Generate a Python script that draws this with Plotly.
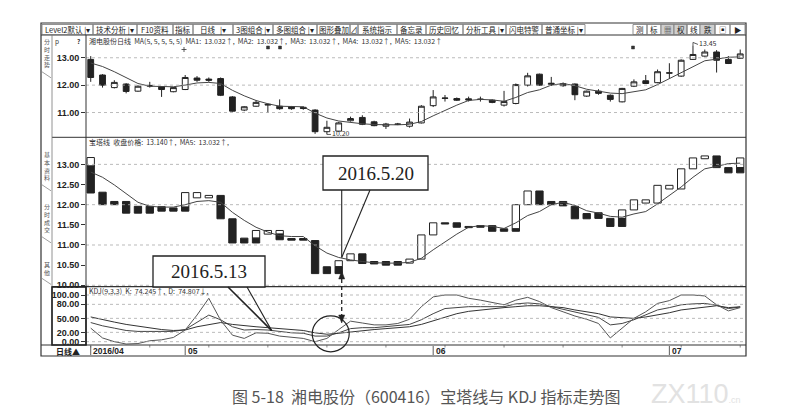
import plotly.graph_objects as go

W, H = 787, 415

# ---------------- data ----------------
dates = ["2016-04-20", "2016-04-21", "2016-04-22", "2016-04-25", "2016-04-26", "2016-04-27", "2016-04-28", "2016-04-29",
         "2016-05-03", "2016-05-04", "2016-05-05", "2016-05-06", "2016-05-09", "2016-05-10", "2016-05-11", "2016-05-12",
         "2016-05-13", "2016-05-16", "2016-05-17", "2016-05-18", "2016-05-19", "2016-05-20", "2016-05-23", "2016-05-24",
         "2016-05-25", "2016-05-26", "2016-05-27", "2016-05-30", "2016-05-31",
         "2016-06-01", "2016-06-02", "2016-06-03", "2016-06-06", "2016-06-07", "2016-06-08", "2016-06-13", "2016-06-14",
         "2016-06-15", "2016-06-16", "2016-06-17", "2016-06-20", "2016-06-21", "2016-06-22", "2016-06-23", "2016-06-24",
         "2016-06-27", "2016-06-28", "2016-06-29", "2016-06-30",
         "2016-07-01", "2016-07-04", "2016-07-05", "2016-07-06", "2016-07-07", "2016-07-08", "2016-07-11"]

open_ = [12.94, 12.37, 11.91, 12.04, 11.78, 11.99, 11.94, 11.76, 11.84, 12.26, 12.22, 12.24, 11.57, 11.09, 11.23, 11.30,
         11.23, 11.21, 11.19, 11.09, 10.30, 10.32, 10.70, 10.82, 10.66, 10.50, 10.58, 10.50, 10.62, 11.25, 11.53, 11.51,
         11.50, 11.49, 11.45, 11.27, 11.33, 12.00, 12.40, 12.02, 11.98, 12.04, 11.60, 11.78, 11.63, 11.39, 11.96, 12.16,
         12.09, 12.45, 12.33, 12.94, 13.06, 13.21, 12.94, 12.98]
high = [13.06, 12.40, 12.18, 12.07, 11.99, 12.12, 11.96, 11.93, 12.37, 12.33, 12.28, 12.28, 11.60, 11.23, 11.45, 11.33,
        11.48, 11.24, 11.22, 11.12, 10.70, 10.66, 10.85, 10.90, 10.70, 10.62, 10.62, 10.78, 11.27, 11.82, 11.64, 11.55,
        11.58, 11.58, 11.48, 11.79, 12.06, 12.45, 12.42, 12.30, 12.10, 12.06, 11.80, 11.85, 11.66, 11.90, 12.21, 12.37,
        12.57, 12.80, 12.94, 13.45, 13.30, 13.28, 13.06, 13.30]
low = [12.12, 11.91, 11.88, 11.70, 11.76, 11.91, 11.57, 11.74, 11.82, 12.12, 12.12, 11.60, 11.03, 11.05, 11.21, 10.99,
       11.10, 11.10, 11.10, 10.22, 10.20, 10.30, 10.67, 10.54, 10.50, 10.40, 10.54, 10.45, 10.60, 11.20, 11.40, 11.42,
       11.40, 11.40, 11.34, 11.22, 11.30, 11.95, 11.98, 11.97, 11.94, 11.45, 11.57, 11.65, 11.40, 11.37, 11.93, 12.04,
       12.07, 12.24, 12.30, 12.92, 13.04, 12.46, 12.77, 12.96]
close = [12.28, 12.00, 12.10, 11.77, 11.96, 11.97, 11.84, 11.91, 12.28, 12.18, 12.18, 11.63, 11.05, 11.21, 11.37, 11.28,
         11.14, 11.14, 11.15, 10.30, 10.46, 10.62, 10.78, 10.57, 10.52, 10.58, 10.57, 10.65, 11.23, 11.57, 11.52, 11.45,
         11.46, 11.48, 11.37, 11.40, 12.02, 12.34, 12.00, 12.07, 12.05, 11.65, 11.78, 11.70, 11.48, 11.88, 12.12, 12.06,
         12.49, 12.44, 12.91, 13.12, 13.21, 12.91, 12.79, 13.14]

ma5 = [12.81, 12.68, 12.49, 12.27, 12.06, 11.96, 11.94, 11.94, 12.00, 12.08, 12.10, 12.06, 11.81, 11.61, 11.44, 11.32,
       11.23, 11.21, 11.21, 10.98, 10.80, 10.69, 10.63, 10.59, 10.56, 10.55, 10.55, 10.57, 10.67, 10.88, 11.08, 11.27,
       11.44, 11.48, 11.46, 11.41, 11.55, 11.73, 11.83, 12.00, 12.06, 11.98, 11.85, 11.79, 11.71, 11.69, 11.77, 11.83,
       12.02, 12.23, 12.44, 12.68, 12.89, 12.95, 13.02, 13.03]

N = None
tower_white_lo = [12.96, N, N, N, N, N, N, N, 11.94, 12.17, 12.17, N, N, N, 11.17, 11.27, 11.27, N, N, N, N, 10.46, 10.61,
                  N, N, N, N, 10.55, 10.65, 11.25, N, N, N, N, N, N, 11.40, 12.00, N, N, N, N, N, N, N, 11.66, 11.87,
                  12.04, 12.04, 12.39, 12.39, 12.89, 13.14, N, N, 12.92]
tower_white_hi = [13.17, N, N, N, N, N, N, N, 12.30, 12.30, 12.23, N, N, N, 11.36, 11.36, 11.36, N, N, N, N, 10.61, 10.78,
                  N, N, N, N, 10.65, 11.25, 11.55, N, N, N, N, N, N, 12.00, 12.34, N, N, N, N, N, N, N, 11.87, 12.12,
                  12.12, 12.48, 12.48, 12.89, 13.16, 13.21, N, N, 13.16]
tower_black_lo = [12.29, 12.00, 12.00, 11.79, 11.79, 11.79, 11.84, 11.84, 11.84, N, N, 11.65, 11.05, 11.05, 11.05, N,
                  11.13, 11.12, 11.12, 10.29, 10.29, 10.29, N, 10.54, 10.53, 10.50, 10.50, N, N, N, 11.52, 11.44, 11.43,
                  11.44, 11.34, 11.34, 11.34, N, 12.00, 12.00, 11.97, 11.65, 11.65, 11.66, 11.46, 11.46, N, N, N, N, N,
                  N, N, 12.92, 12.79, 12.79]
tower_black_hi = [12.96, 12.31, 12.08, 12.08, 11.96, 11.96, 11.95, 11.92, 11.94, N, N, 12.23, 11.65, 11.17, 11.17, N,
                  11.27, 11.16, 11.16, 11.11, 10.46, 10.46, N, 10.78, 10.59, 10.59, 10.59, N, N, N, 11.55, 11.55, 11.46,
                  11.48, 11.48, 11.40, 11.40, N, 12.34, 12.08, 12.08, 11.96, 11.78, 11.80, 11.66, 11.66, N, N, N, N, N,
                  N, N, 13.21, 12.92, 12.92]

kdj_k = [41, 34, 29, 24, 22, 22, 21, 22, 26, 41, 57, 47, 32, 25, 26, 25, 22, 19, 18, 12, 12, 19, 28, 30, 30, 32, 34, 37,
         47, 60, 71, 73, 75, 75, 75, 75, 81, 83, 81, 75, 70, 63, 58, 52, 36, 39, 47, 57, 68, 73, 79, 81, 82, 78, 71, 74.2]
kdj_d = [53, 47, 42, 37, 33, 30, 26, 24, 25, 32, 37, 41, 37, 34, 32, 30, 28, 26, 24, 19, 16, 18, 21, 24, 26, 28, 30, 32,
         37, 45, 53, 60, 65, 68, 71, 73, 75, 77, 77, 75, 73, 68, 64, 60, 53, 51, 50, 53, 57, 62, 68, 71, 75, 77, 73, 74.8]
kdj_j = [29, 8, 0, -5, -4, 2, 4, 9, 25, 57, 93, 46, 14, 7, 19, 18, 12, 10, 7, 0, 7, 26, 44, 40, 36, 36, 39, 48, 75, 96,
         100, 100, 93, 89, 84, 79, 89, 95, 86, 73, 64, 55, 48, 39, 8, 28, 50, 64, 82, 88, 100, 100, 98, 79, 66, 73]

price_ticks_top = [11, 12, 13]
price_ticks_mid = [10.0, 10.5, 11.0, 11.5, 12.0, 12.5, 13.0]
kdj_ticks = [0, 20, 50, 80, 100]
month_marks = ["2016-04-20", "2016-05-03", "2016-06-01", "2016-07-01"]
month_text = ["2016/04", "05", "06", "07"]

toolbar = [("Level2默认 |▾", 42, 93), ("技术分析 |▾", 93, 137), ("F10资料", 137, 173), ("指标", 173, 193),
           ("日线   |▾", 193, 233), ("3图组合 |▾", 233, 273), ("多图组合 |▾", 273, 317), ("图形叠加", 317, 350),
           ("⊿", 350, 358), ("系统指示", 358, 397), ("备忘录", 397, 426), ("历史回忆", 426, 463),
           ("分析工具 |▾", 463, 506), ("闪电特警", 506, 542), ("普通坐标 |▾", 542, 585),
           ("测", 633, 647), ("标", 647, 661), ("▦", 661, 674), ("权", 674, 687), ("线", 687, 700),
           ("跌", 700, 715), ("▣", 715, 730), ("▶", 730, 745)]

# ---------------- geometry helpers ----------------
def X(px):
    return px / W

def Y(py):
    return 1 - py / H

PL, PR = 86, 746
XR = [-0.40, 55.49]
TOP = (37, 137.3, [10.095, 13.758])
MID = (137.3, 286.7, [9.965, 13.672])
BOT = (286.7, 345.0, [-7.1, 117.8])

def xpx(i):
    return PL + (i - XR[0]) / (XR[1] - XR[0]) * (PR - PL)

def ypx(panel, v):
    t, b, r = panel
    return b - (v - r[0]) / (r[1] - r[0]) * (b - t)

fig = go.Figure()

# candles (top panel)
fig.add_trace(go.Candlestick(
    x=dates, open=open_, high=high, low=low, close=close, xaxis="x", yaxis="y",
    increasing=dict(line=dict(color="#222", width=1), fillcolor="white"),
    decreasing=dict(line=dict(color="#222", width=1), fillcolor="#222"),
    whiskerwidth=0, showlegend=False, hoverinfo="skip"))
fig.add_trace(go.Scatter(x=dates, y=ma5, mode="lines", line=dict(color="#444", width=1),
                         xaxis="x", yaxis="y", showlegend=False, hoverinfo="skip"))

# tower line (middle panel)
def seg(lo, hi):
    return [None if a is None else round(b - a, 3) for a, b in zip(lo, hi)]

fig.add_trace(go.Bar(x=dates, base=tower_white_lo, y=seg(tower_white_lo, tower_white_hi), width=0.62,
                     marker=dict(color="white", line=dict(color="#222", width=1)),
                     xaxis="x", yaxis="y2", showlegend=False, hoverinfo="skip"))
fig.add_trace(go.Bar(x=dates, base=tower_black_lo, y=seg(tower_black_lo, tower_black_hi), width=0.62,
                     marker=dict(color="#222", line=dict(color="#222", width=1)),
                     xaxis="x", yaxis="y2", showlegend=False, hoverinfo="skip"))
fig.add_trace(go.Scatter(x=dates, y=ma5, mode="lines", line=dict(color="#444", width=1),
                         xaxis="x", yaxis="y2", showlegend=False, hoverinfo="skip"))

# KDJ (bottom panel)
for arr, col in ((kdj_k, "#444"), (kdj_d, "#333"), (kdj_j, "#555")):
    fig.add_trace(go.Scatter(x=dates, y=arr, mode="lines", line=dict(color=col, width=1),
                             xaxis="x", yaxis="y3", showlegend=False, hoverinfo="skip"))

tickfont = dict(family="Liberation Sans", size=9, color="#222")

def yax(panel, tvals, fmt):
    t, b, r = panel
    return dict(domain=[Y(b), Y(t)], range=r, anchor="x", tickvals=tvals,
                ticktext=["<b>" + fmt.format(v) + "</b>" for v in tvals],
                showgrid=False, zeroline=False, ticks="outside", ticklen=4, tickcolor="#333",
                tickfont=tickfont, showline=False, fixedrange=True, automargin=False)

fig.update_layout(
    width=W, height=H, margin=dict(l=0, r=0, t=0, b=0, pad=0),
    paper_bgcolor="white", plot_bgcolor="white", barmode="overlay", bargap=0,
    xaxis=dict(domain=[X(PL), X(PR)], range=XR, type="category", anchor="y3",
               showticklabels=False, showgrid=False, zeroline=False, ticks="",
               rangeslider=dict(visible=False), fixedrange=True, automargin=False),
    yaxis=yax(TOP, price_ticks_top, "{:.2f}"),
    yaxis2=yax(MID, price_ticks_mid, "{:.2f}"),
    yaxis3=yax(BOT, kdj_ticks, "{:.2f}"),
)

shapes = []
annots = []

def line_px(x0, y0, x1, y1, color="#333", width=1, dash="solid"):
    shapes.append(dict(type="line", xref="paper", yref="paper", x0=X(x0), y0=Y(y0), x1=X(x1), y1=Y(y1),
                       line=dict(color=color, width=width, dash=dash), layer="above"))

def rect_px(x0, y0, x1, y1, color="#333", width=1, fill="rgba(0,0,0,0)", layer="above"):
    shapes.append(dict(type="rect", xref="paper", yref="paper", x0=X(x0), y0=Y(y0), x1=X(x1), y1=Y(y1),
                       line=dict(color=color, width=width), fillcolor=fill, layer=layer))

def text_px(x, y, s, size=7, color="#333", anchor="left", family="Noto Sans CJK SC", yanchor="middle"):
    annots.append(dict(xref="paper", yref="paper", x=X(x), y=Y(y), text=s, showarrow=False,
                       xanchor=anchor, yanchor=yanchor, borderpad=0,
                       font=dict(size=size, color=color, family=family)))

# dotted grid lines
for panel, vals in ((TOP, price_ticks_top), (MID, [10, 11, 12, 13]), (BOT, kdj_ticks)):
    for v in vals:
        yy = ypx(panel, v)
        line_px(PL, yy, PR, yy, color="#aaa", width=0.8, dash="dot")

# frame and separators
rect_px(41, 23, 746, 356, color="#333", width=1.2)
line_px(41, 35, 746, 35, width=1)
line_px(52, 137.3, 746, 137.3, width=1)
line_px(52, 286.7, 746, 286.7, width=1.2)
line_px(41, 345, 746, 345, width=1.2)
line_px(PL, 35, PL, 345, width=1)
line_px(52, 35, 52, 345, color="#777", width=0.8)
rect_px(52, 287, 86, 345, color="#222", width=1.6)

# toolbar
for label, x0, x1 in toolbar:
    rect_px(x0, 24.5, x1, 34.5, color="#777", width=0.8,
            fill="#cfcfcf" if label in ("▦", "权", "跌") else "rgba(0,0,0,0)")
    text_px((x0 + x1) / 2, 29.5, label, size=7.5, anchor="center", color="#222")

# left vertical tabs
for s, yc in (("分时走势", 53), ("基本资料", 166), ("分时成交", 218), ("其他", 268)):
    text_px(46.5, yc, "<br>".join(s), size=6, anchor="center", color="#555")
    line_px(42, yc + len(s) * 4.2 + 2, 51, yc + len(s) * 4.2 + 8, color="#777", width=0.7)

# panel headers
text_px(54, 41.5, "p", size=6.5)
text_px(76, 41.5, "<b>?</b>", size=6.5)
text_px(88, 41.5, "湘电股份日线  MA(5, 5, 5, 5, 5)  MA1:  13.032↑,  MA2:  13.032↑,  MA3:  13.032↑,  MA4:  13.032↑,  MA5:  13.032↑",
        size=7, color="#333")
text_px(88, 141.5, "宝塔线  收盘价格:  13.140↑,  MA5:  13.032↑,", size=7, color="#333")
text_px(88, 290.5, "KDJ(9,3,3)  K:  74.245↑,  D:  74.807↓,", size=7, color="#333")

# extreme labels
i_lo = low.index(min(low))
line_px(xpx(i_lo), ypx(TOP, low[i_lo]), xpx(i_lo) + 4, ypx(TOP, low[i_lo]), width=0.8)
text_px(xpx(i_lo) + 4, ypx(TOP, low[i_lo]) - 1, "{:.2f}".format(low[i_lo]), size=7)
i_hi = high.index(max(high))
line_px(xpx(i_hi), ypx(TOP, high[i_hi]), xpx(i_hi), ypx(TOP, high[i_hi]) - 3, width=0.8)
line_px(xpx(i_hi), ypx(TOP, high[i_hi]) - 3, xpx(i_hi) + 5, ypx(TOP, high[i_hi]) - 1, width=0.8)
text_px(xpx(i_hi) + 5, ypx(TOP, high[i_hi]) - 2, "{:.2f}".format(high[i_hi]), size=7)

# info markers
for px_, py_ in ((268, 47.5), (280, 47.5), (633, 47.5)):
    rect_px(px_ - 1.5, py_ - 1.5, px_ + 1.5, py_ + 1.5, color="#333", width=0.5, fill="#333")
line_px(181.5, 49.5, 186.5, 49.5, width=0.8)
line_px(184, 47, 184, 52, width=0.8)

# x-axis labels
text_px(55, 351.5, "<b>日线▲</b>", size=8, color="#222")
for d, s in zip(month_marks, month_text):
    xx = xpx(dates.index(d))
    line_px(xx, 346, xx, 355, color="#333", width=0.8)
    text_px(xx + 1.5, 351, "<b>" + s + "</b>", size=8.5, color="#222", family="Liberation Sans")
for i in range(0, len(dates), 5):
    line_px(xpx(i), 345, xpx(i), 347.5, color="#555", width=0.7)

# callouts
i20 = dates.index("2016-05-20")
px20, py20 = xpx(i20) + 3, ypx(MID, ma5[i20])
rect_px(323, 156, 428, 190, color="#222", width=1.3, fill="white")
text_px(375.5, 173, "2016.5.20", size=19, anchor="center", color="#222", family="Liberation Serif")
line_px(px20, 190, px20, py20, color="#222", width=1.1)
line_px(370, 190, px20, py20, color="#222", width=1.1)

i13 = dates.index("2016-05-13")
px13, py13 = xpx(i13) - 8, ypx(BOT, kdj_d[i13]) + 2
rect_px(153, 256, 265, 287, color="#222", width=1.3, fill="white")
text_px(209, 271.5, "2016.5.13", size=19, anchor="center", color="#222", family="Liberation Serif")
line_px(228, 287, px13, py13, color="#222", width=1.6)
line_px(247, 287, px13, py13, color="#222", width=1.1)

# dashed double arrow and circle
ax_ = xpx(i20) + 3
y_dash = 279
while y_dash < 315:
    line_px(ax_, y_dash, ax_, min(y_dash + 4, 315), color="#222", width=1.3)
    y_dash += 7
for tip, base in ((271, 279), (323, 315)):
    shapes.append(dict(type="path", xref="paper", yref="paper",
                       path="M {} {} L {} {} L {} {} Z".format(X(ax_), Y(tip), X(ax_ - 3), Y(base), X(ax_ + 3), Y(base)),
                       fillcolor="#222", line=dict(color="#222", width=0.5), layer="above"))
cx, cy = xpx(i20) - 8, ypx(BOT, kdj_k[i20]) + 1
shapes.append(dict(type="circle", xref="paper", yref="paper", x0=X(cx - 18.5), x1=X(cx + 18.5),
                   y0=Y(cy + 18), y1=Y(cy - 18), line=dict(color="#222", width=1.2), layer="above"))

# caption and watermark
text_px(426, 396, "图 5-18  湘电股份（600416）宝塔线与 KDJ 指标走势图", size=16, anchor="center", color="#555")
text_px(650, 394, "ZX110<span style='font-size:9px'>.cn</span>", size=27, color="#e2e2e2",
        family="Liberation Sans")

fig.update_layout(shapes=shapes, annotations=annots)
fig.write_html("out.html", config={"displayModeBar": False, "staticPlot": True},
               post_script="document.body.style.margin='0';document.body.style.overflow='hidden';")
